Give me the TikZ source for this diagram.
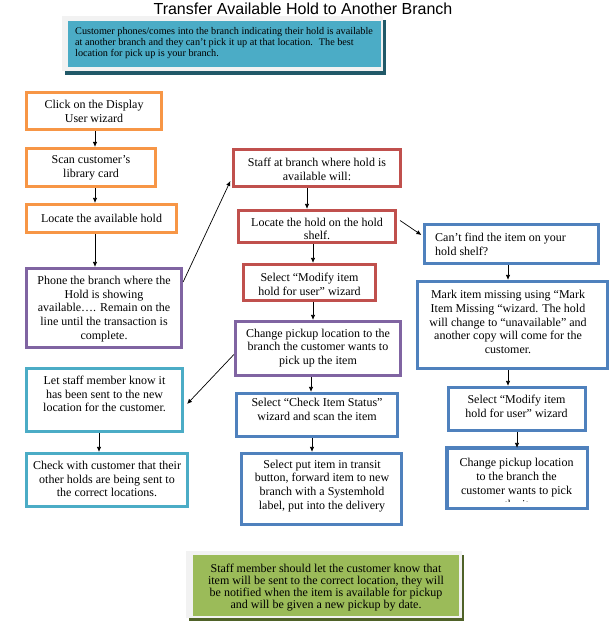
\documentclass[tikz,border=0pt]{standalone}
\usepackage{fontspec}
\setmainfont{Liberation Serif}
\newfontfamily\titlefont{Liberation Sans}
\usetikzlibrary{arrows.meta,calc}
\definecolor{cOrange}{HTML}{F79646}
\definecolor{cPurple}{HTML}{8064A2}
\definecolor{cRed}{HTML}{C0504D}
\definecolor{cBlue}{HTML}{4F81BD}
\definecolor{cTeal}{HTML}{4BACC6}
\definecolor{cGreen}{HTML}{9BBB59}
\definecolor{cTealShadow}{HTML}{215968}
\definecolor{cGreenShadow}{HTML}{4F6228}
\definecolor{cFrame}{HTML}{F2F2F2}
\begin{document}
\begin{tikzpicture}[x=1pt,y=-1pt,
  boxbase/.style={rectangle, line width=3.2pt, inner sep=0pt, fill=white},
  obox/.style={boxbase, draw=cOrange},
  pbox/.style={boxbase, draw=cPurple},
  rbox/.style={boxbase, draw=cRed},
  bbox/.style={boxbase, draw=cBlue},
  tbox/.style={boxbase, draw=cTeal},
  txt/.style={align=center, inner sep=0pt, font=\fontsize{12}{13.8}\selectfont},
  arr/.style={draw=black, line width=0.7pt, -{Latex[length=5pt,width=4.5pt]}}]
\useasboundingbox (0,0) rectangle (611,631);
\fill[white] (0,0) rectangle (611,631);

% title
\node[anchor=base, inner sep=0pt, font=\titlefont\fontsize{16}{18}\selectfont] (title) at (303,15) {Transfer Available Hold to Another Branch};

% intro box
\fill[cTealShadow] (65,20) rectangle (386,75);
\fill[cFrame] (62,16) rectangle (383,71);
\node[fill=cTeal, inner sep=0pt, minimum width=313pt, minimum height=46pt] (intro) at (224.5,44) {};
\node[anchor=west, align=left, inner sep=0pt, font=\fontsize{10.2}{11}\selectfont] (introtxt) at (75,43)
 {Customer phones/comes into the branch indicating their hold is available\\
  at another branch and they can’t pick it up at that location.~ The best\\
  location for pick up is your branch.};

% left column
\node[obox, minimum width=135pt, minimum height=37pt] (b1) at (94,111) {};
\node[txt] (t1) at (94,111.5) {Click on the Display\\User wizard};
\node[obox, minimum width=129pt, minimum height=38pt] (b2) at (91,167.5) {};
\node[txt] (t2) at (91,168) {Scan customer’s\\library card};
\node[obox, minimum width=150pt, minimum height=28pt] (b3) at (101.5,218.5) {};
\node[txt] (t3) at (101.5,218) {Locate the available hold};
\node[pbox, minimum width=155pt, minimum height=79pt] (b4) at (104,308) {};
\node[txt] (t4) at (104,309) {Phone the branch where the\\Hold is showing\\available…. Remain on the\\line until the transaction is\\complete.};
\node[tbox, minimum width=156pt, minimum height=63pt] (b5) at (104.5,400) {};
\node[txt] (t5) at (104.5,394) {Let staff member know it\\has been sent to the new\\location for the customer.};
\node[tbox, minimum width=161pt, minimum height=53pt] (b6) at (107,480) {};
\node[txt] (t6) at (107,479) {Check with customer that their\\other holds are being sent to\\the correct locations.};

% middle column
\node[rbox, minimum width=167pt, minimum height=37pt] (b7) at (317,168) {};
\node[txt] (t7) at (317,169.5) {Staff at branch where hold is\\available will:};
\node[rbox, minimum width=157pt, minimum height=32pt] (b8) at (317,226.5) {};
\node[txt] (t8) at (317,229) {Locate the hold on the hold\\shelf.};
\node[rbox, minimum width=132pt, minimum height=36pt] (b9) at (309.5,282.5) {};
\node[txt] (t9) at (309.5,284) {Select “Modify item\\hold for user” wizard};
\node[pbox, minimum width=165pt, minimum height=54pt] (b10) at (318,348.5) {};
\node[txt] (t10) at (318,348) {Change pickup location to the\\branch the customer wants to\\pick up the item};
\node[bbox, minimum width=161pt, minimum height=43pt] (b11) at (317,415) {};
\node[txt] (t11) at (317,409) {Select “Check Item Status”\\wizard and scan the item};
\node[bbox, minimum width=160pt, minimum height=71pt] (b12) at (321.5,489) {};
\node[txt] (t12) at (322,486) {Select put item in transit\\button, forward item to new\\branch with a Systemhold\\label, put into the delivery};

% right column
\node[bbox, minimum width=174pt, minimum height=39pt] (b13) at (511.5,244) {};
\node[txt, align=left, anchor=west] (t13) at (435,244) {Can’t find the item on your\\hold shelf?};
\node[bbox, minimum width=190pt, minimum height=87pt] (b14) at (512.5,325) {};
\node[txt] (t14) at (508,322) {Mark item missing using “Mark\\Item Missing “wizard. The hold\\will change to “unavailable” and\\another copy will come for the\\customer.};
\node[bbox, minimum width=137pt, minimum height=43pt] (b15) at (517,409) {};
\node[txt] (t15) at (516.5,406) {Select “Modify item\\hold for user” wizard};
\node[bbox, draw=none, minimum width=137pt, minimum height=57pt] (b16) at (517,478) {};
\begin{scope}
  \clip (448,449) rectangle (586,501.5);
  \node[txt] (t16) at (516.5,484.5) {Change pickup location\\to the branch the\\customer wants to pick\\up the item};
\end{scope}
\draw[cBlue, line width=3.2pt] (b16.north west) rectangle (b16.south east);

% bottom note
\fill[cGreenShadow] (189,555) rectangle (464,621);
\fill[cFrame] (186,551) rectangle (462,618);
\node[fill=cGreen, inner sep=0pt, minimum width=266pt, minimum height=61pt] (note) at (326,585.5) {};
\begin{scope}
  \clip (193,555) rectangle (459,612);
  \node[txt, font=\fontsize{12}{12}\selectfont] (notetxt) at (326,588) {Staff member should let the customer know that\\item will be sent to the correct location, they will\\be notified when the item is available for pickup\\and will be given a new pickup by date.};
\end{scope}

% vertical connectors
\draw[arr] ([xshift=1pt]b1.south) -- ([xshift=1pt]b1.south |- b2.north);
\draw[arr] ([xshift=1pt]b1.south |- b2.south) -- ([xshift=1pt]b1.south |- b3.north);
\draw[arr] ([xshift=1pt]b1.south |- b3.south) -- ([xshift=1pt]b1.south |- b4.north);
\draw[arr] ([xshift=-5.5pt]b5.south) -- ([xshift=-5.5pt]b5.south |- b6.north);
\draw[arr] ([xshift=-10pt]b7.south) -- ([xshift=-10pt]b7.south |- b8.north);
\draw[arr] ([xshift=-4pt]b8.south) -- ([xshift=-4pt]b8.south |- b9.north);
\draw[arr] ([xshift=3.5pt]b9.south) -- ([xshift=3.5pt]b9.south |- b10.north);
\draw[arr] ([xshift=-7pt]b10.south) -- ([xshift=-7pt]b10.south |- b11.north);
\draw[arr] ([xshift=-5pt]b11.south) -- ([xshift=-5pt]b11.south |- b12.north);
\draw[arr] ([xshift=-3.5pt]b13.south) -- ([xshift=-3.5pt]b13.south |- b14.north);
\draw[arr] ([xshift=-4.5pt]b14.south) -- ([xshift=-4.5pt]b14.south |- b15.north);
\draw[arr] (b15.south) -- (b15.south |- b16.north);

% diagonal connectors
\draw[arr] ([yshift=26pt]b4.east) -- ([xshift=-1.5pt,yshift=-13pt]b7.west);
\draw[arr] ([yshift=-6pt]b10.west) -- ([xshift=3pt,yshift=-4pt]b5.east);
\draw[arr] ([xshift=3pt,yshift=6pt]b8.east) -- ([xshift=-1.5pt,yshift=9pt]b13.west);
\end{tikzpicture}
\end{document}
